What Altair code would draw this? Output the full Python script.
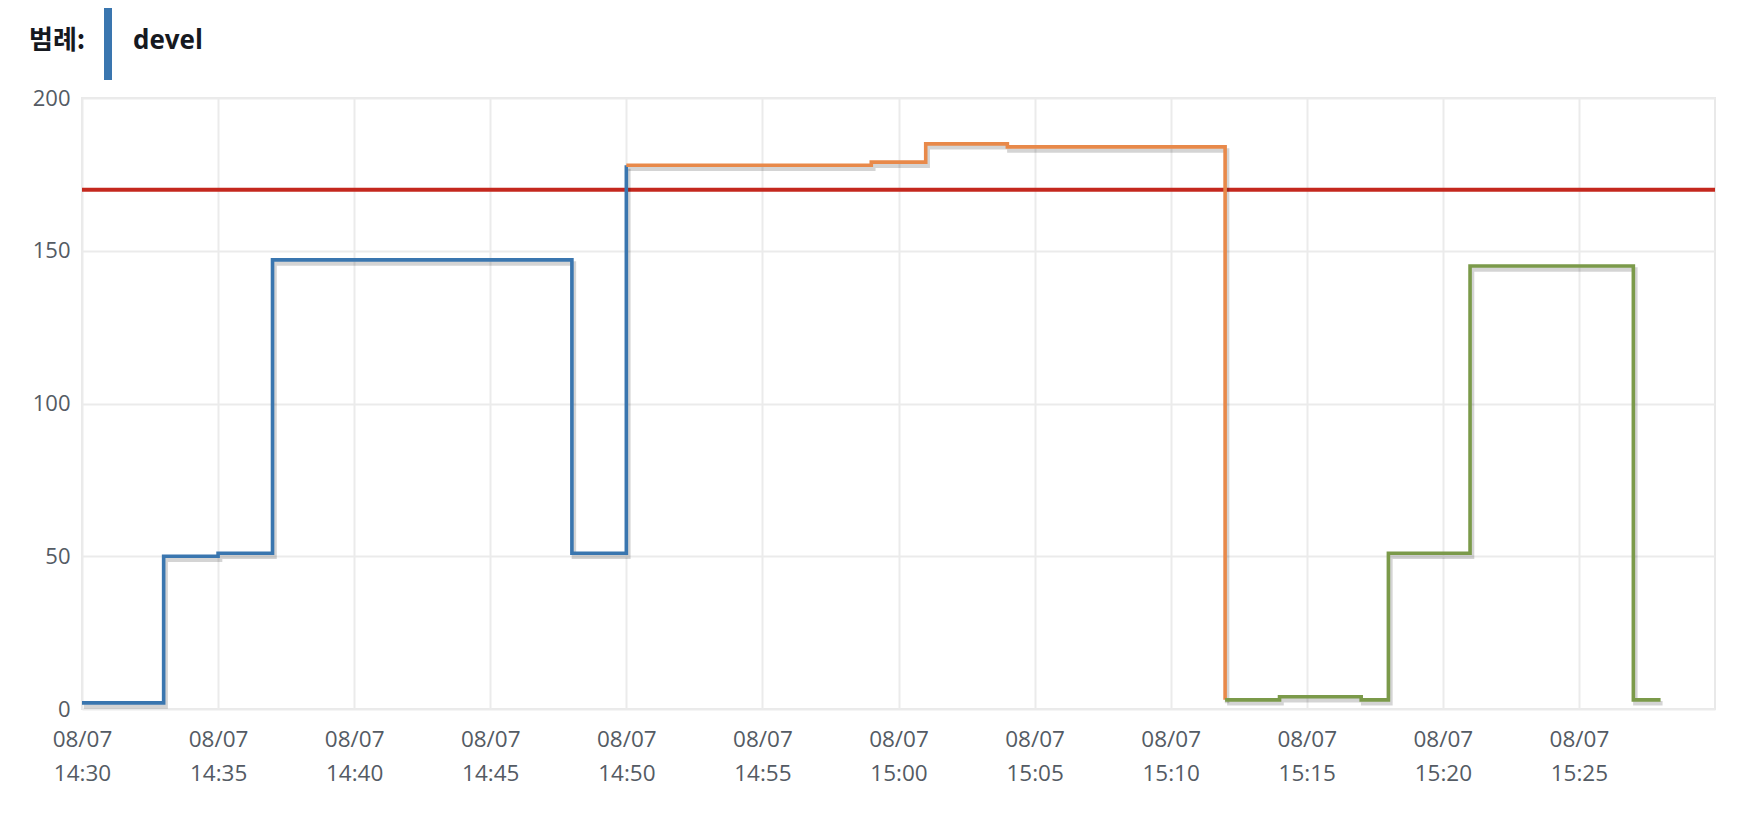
import altair as alt
import pandas as pd

DAY = "2024-08-07"

# step series (change points, step-after)
blue_times = ["14:30", "14:33", "14:35", "14:37", "14:48", "14:50"]
blue_values = [2, 50, 51, 147, 51, 178]
orange_times = ["14:50", "14:59", "15:01", "15:04", "15:12"]
orange_values = [178, 179, 185, 184, 3]
green_times = ["15:12", "15:14", "15:17", "15:18", "15:21", "15:27", "15:28"]
green_values = [3, 4, 3, 51, 145, 3, 3]

threshold = [170]
y_ticks = [0, 50, 100, 150, 200]
tick_times = ["14:30", "14:35", "14:40", "14:45", "14:50", "14:55",
              "15:00", "15:05", "15:10", "15:15", "15:20", "15:25"]
domain_times = ["14:30", "15:30"]

legend_title = ["범례:"]
legend_labels = ["devel"]

segments = ["blue", "orange", "green"]
seg_colors = ["#3a76af", "#e8894a", "#7b9a4a"]
threshold_color = "#c4281e"


def dt(hm):
    h, m = hm.split(":")
    return alt.DateTime(year=2024, month=8, date=7, hours=int(h), minutes=int(m))


rows = []
for seg, times, vals in [("blue", blue_times, blue_values),
                         ("orange", orange_times, orange_values),
                         ("green", green_times, green_values)]:
    for t, v in zip(times, vals):
        rows.append({"t": f"{DAY}T{t}:00", "v": v, "seg": seg})
df = pd.DataFrame(rows)

label_color = "#545b64"
grid_color = "#ebebeb"

x_enc = alt.X(
    "t:T",
    scale=alt.Scale(domain=[dt(domain_times[0]), dt(domain_times[1])]),
    axis=alt.Axis(
        values=[dt(t) for t in tick_times],
        labelExpr="[timeFormat(datum.value, '%m/%d'), timeFormat(datum.value, '%H:%M')]",
        grid=True, gridColor=grid_color, gridWidth=2,
        domain=False, ticks=False,
        labelFont="Open Sans", labelFontSize=22.5, labelColor=label_color,
        labelLineHeight=34, labelPadding=19, labelOverlap=False, labelFlush=False,
        title=None,
    ),
)
y_enc = alt.Y(
    "v:Q",
    scale=alt.Scale(domain=[0, 200], nice=False),
    axis=alt.Axis(
        values=y_ticks, grid=True, gridColor=grid_color, gridWidth=2,
        domain=False, ticks=False,
        labelFont="Open Sans", labelFontSize=22, labelColor=label_color,
        labelPadding=12, title=None,
    ),
)

base = alt.Chart(df)

rule = alt.Chart(pd.DataFrame({"v": threshold})).mark_rule(
    color=threshold_color, strokeWidth=4
).encode(y=alt.Y("v:Q"))

shadow = base.mark_line(
    interpolate="step-after", color="#000000", opacity=0.17,
    strokeWidth=4.5, xOffset=2, yOffset=3.5
).encode(x=x_enc, y=y_enc, detail="seg:N")

lines = base.mark_line(interpolate="step-after", strokeWidth=3.6).encode(
    x=x_enc, y=y_enc,
    color=alt.Color("seg:N", scale=alt.Scale(domain=segments, range=seg_colors), legend=None),
)

title_txt = alt.Chart(pd.DataFrame({"label": legend_title})).mark_text(
    align="left", baseline="middle", font="Noto Sans CJK KR", fontSize=26,
    fontWeight="bold", color="#16191f"
).encode(x=alt.value(-53), y=alt.value(-57), text="label:N")

bar = alt.Chart(pd.DataFrame({"label": legend_labels})).mark_rule(
    color=seg_colors[0], strokeWidth=8
).encode(x=alt.value(26), y=alt.value(-90), y2=alt.value(-18))

label_txt = alt.Chart(pd.DataFrame({"label": legend_labels})).mark_text(
    align="left", baseline="middle", font="Open Sans", fontSize=26,
    fontWeight="bold", color="#16191f"
).encode(x=alt.value(51), y=alt.value(-57), text="label:N")

chart = alt.layer(rule, shadow, lines, title_txt, bar, label_txt).properties(
    width=1633, height=611,
    padding={"left": 74, "top": 90, "right": 20, "bottom": 90},
    autosize="none",
).configure_view(stroke="#e9e9e9", strokeWidth=2)

chart.save("out.html", embed_options={"renderer": "svg", "actions": False})
